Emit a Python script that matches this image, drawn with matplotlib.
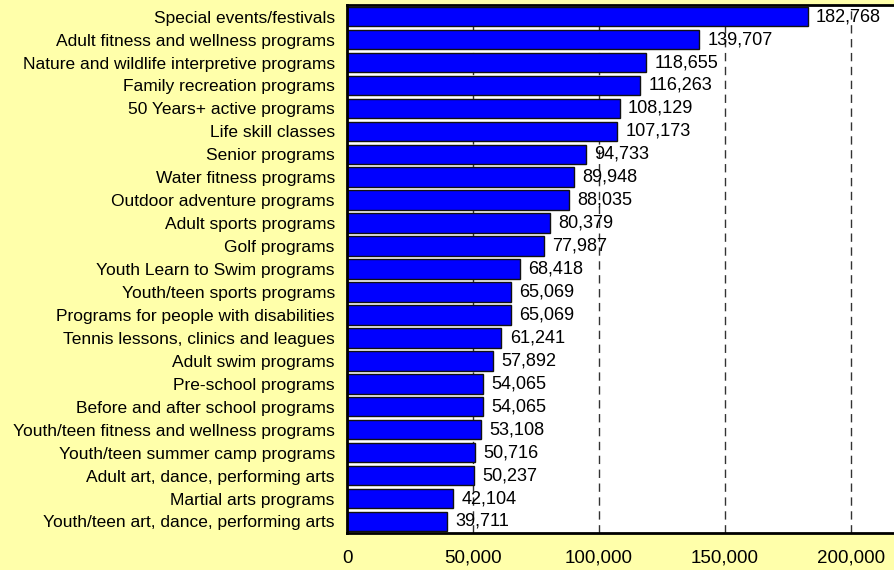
import matplotlib.pyplot as plt
import numpy as np

plt.rcParams['font.family'] = ['Liberation Sans', 'DejaVu Sans']

programs = [
    'Special events/festivals',
    'Adult fitness and wellness programs',
    'Nature and wildlife interpretive programs',
    'Family recreation programs',
    '50 Years+ active programs',
    'Life skill classes',
    'Senior programs',
    'Water fitness programs',
    'Outdoor adventure programs',
    'Adult sports programs',
    'Golf programs',
    'Youth Learn to Swim programs',
    'Youth/teen sports programs',
    'Programs for people with disabilities',
    'Tennis lessons, clinics and leagues',
    'Adult swim programs',
    'Pre-school programs',
    'Before and after school programs',
    'Youth/teen fitness and wellness programs',
    'Youth/teen summer camp programs',
    'Adult art, dance, performing arts',
    'Martial arts programs',
    'Youth/teen art, dance, performing arts',
]
participants = [182768, 139707, 118655, 116263, 108129, 107173, 94733, 89948,
                88035, 80379, 77987, 68418, 65069, 65069, 61241, 57892, 54065,
                54065, 53108, 50716, 50237, 42104, 39711]
x_ticks = [0, 50000, 100000, 150000, 200000]

bg = '#FFFFAA'
fig = plt.figure(figsize=(8.95, 5.70), dpi=100, facecolor=bg)
ax = fig.add_axes([0.388, 0.065, 0.612, 0.926])
ax.set_facecolor('white')

y = np.arange(len(programs))
ax.barh(y, participants, height=0.85, color='#0000FF', edgecolor='#111111',
        linewidth=1, zorder=2)

# etiquetas de valor à direita de cada barra
for yi, v in zip(y, participants):
    ax.text(v + 3300, yi, f'{v:,}', va='center', ha='left', fontsize=13.1,
            color='black', zorder=1)

ax.set_ylim(len(programs) - 0.5, -0.5)
ax.set_xlim(0, 217500)
ax.set_yticks(y)
ax.set_yticklabels(programs, fontsize=12.5)
ax.set_xticks(x_ticks)
ax.set_xticklabels([f'{t:,}' for t in x_ticks], fontsize=13.5)
ax.tick_params(axis='y', length=0, pad=9)
ax.tick_params(axis='x', length=0, pad=12)

ax.xaxis.grid(True, linestyle=(0, (6, 4)), color='#333333', linewidth=1, zorder=0)
ax.set_axisbelow(True)

for side in ['left', 'bottom', 'top']:
    ax.spines[side].set_linewidth(2)
    ax.spines[side].set_color('black')
ax.spines['right'].set_visible(False)

plt.savefig('out.png', dpi=100, facecolor=bg)
